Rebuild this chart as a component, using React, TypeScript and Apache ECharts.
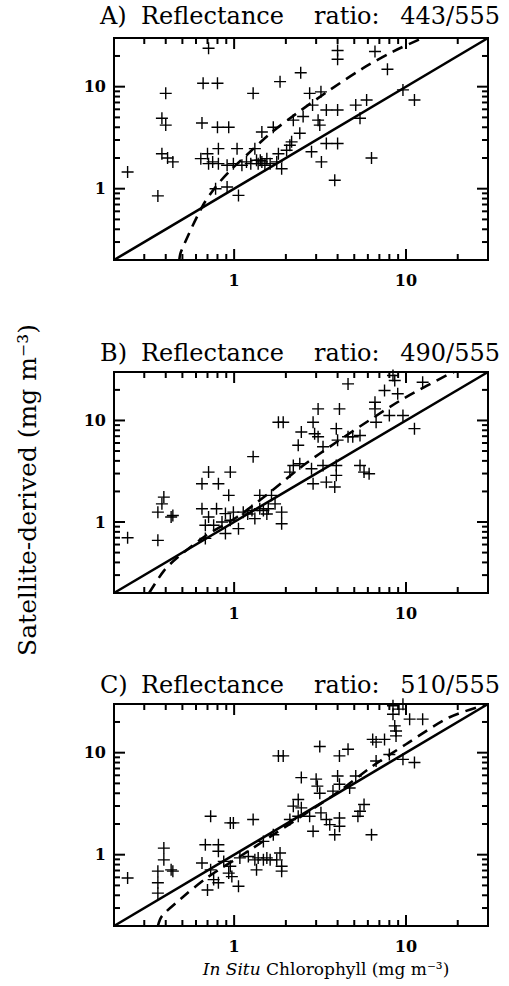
import React, { useEffect, useRef } from "react";
import * as echarts from "echarts";

const AXIS_MIN = 0.2;
const AXIS_MAX = 30;
const tickLabelValues = [1, 10];
const majorTickValues = [1, 10];
const minorTickValues = [0.3, 0.4, 0.5, 0.6, 0.7, 0.8, 0.9, 2, 3, 4, 5, 6, 7, 8, 9, 20];

const panelTitles = [
  "A) Reflectance ratio: 443/555",
  "B) Reflectance ratio: 490/555",
  "C) Reflectance ratio: 510/555",
];
const yAxisTitle = "Satellite-derived (mg m⁻³)";
const xAxisTitleItalic = "In Situ";
const xAxisTitleRest = " Chlorophyll (mg m⁻³)";

const oneToOne = [
  [0.2, 0.2],
  [30, 30],
];

const dashedA = [
  [0.48, 0.2], [0.49, 0.24], [0.65, 0.66], [0.78, 1.04], [0.95, 1.51], [1.18, 2.13],
  [1.62, 3.47], [2.31, 5.47], [3.6, 9.27], [5.6, 15.1], [8.4, 22.1], [12.5, 30],
];
const dashedB = [
  [0.32, 0.2], [0.39, 0.33], [0.47, 0.45], [0.69, 0.74], [1.04, 1.12], [1.62, 1.97],
  [2.52, 3.6], [3.93, 6.1], [6.1, 10], [9.6, 16.3], [17.9, 28.8], [19, 30],
];
const dashedC = [
  [0.36, 0.2], [0.38, 0.25], [0.49, 0.37], [0.69, 0.59], [1.08, 0.96], [1.69, 1.57],
  [2.64, 2.57], [4.1, 4.2], [6.4, 7.4], [10, 12.1], [17.8, 22.1], [30, 30],
];

const pointsA = [
  [0.71, 23.8], [0.4, 8.6], [0.66, 10.8], [0.8, 10.8], [1.29, 8.6], [1.85, 11.2], [2.44, 13.7],
  [4.0, 22.6], [4.0, 18.6], [6.6, 22.1], [7.8, 14.8], [2.75, 8.6], [3.2, 8.9], [2.86, 6.6],
  [3.44, 5.9], [4.0, 5.9], [5.1, 6.6], [5.9, 7.4], [5.4, 4.9], [9.6, 9.3], [11.2, 7.4],
  [0.38, 4.9], [0.4, 4.2], [0.65, 4.4], [0.8, 4.0], [0.93, 4.0], [1.45, 3.6], [1.69, 4.0],
  [2.21, 4.7], [2.52, 5.1], [2.41, 3.5], [3.08, 4.7], [3.15, 4.2], [0.38, 2.2], [0.41, 2.0],
  [0.44, 1.83], [0.36, 0.85], [0.64, 1.97], [0.7, 2.2], [0.71, 1.76], [0.81, 2.47], [0.81, 1.76],
  [0.91, 1.7], [1.04, 2.47], [0.99, 1.76], [1.11, 1.7], [1.18, 1.83], [1.32, 2.47], [1.35, 1.9],
  [1.45, 1.83], [1.55, 1.97], [1.62, 1.76], [1.77, 1.83], [1.81, 2.2], [1.89, 1.57], [2.02, 2.38],
  [2.11, 2.67], [2.16, 2.88], [2.82, 2.3], [3.22, 1.83], [3.44, 2.77], [4.0, 2.77], [3.85, 1.21],
  [6.3, 2.0], [0.78, 1.0], [0.91, 1.04], [1.06, 0.86], [0.24, 1.46], [1.38, 1.76], [1.51, 1.7],
  [0.75, 1.83], [1.25, 1.76], [1.42, 1.9],
];

const pointsB = [
  [4.6, 22.9], [8.4, 27.7], [8.6, 24.7], [12.5, 23.8], [7.5, 19.7], [8.95, 18.3], [3.08, 13.0],
  [4.1, 13.0], [6.6, 15.1], [6.6, 13.0], [6.7, 9.6], [8.0, 11.2], [9.6, 11.2], [11.2, 8.3],
  [1.81, 9.6], [1.93, 9.6], [2.88, 9.6], [2.46, 7.7], [2.94, 7.4], [3.08, 6.9], [2.36, 5.7],
  [3.29, 5.5], [3.93, 8.3], [4.0, 6.4], [4.6, 6.9], [4.9, 6.9], [5.4, 7.1], [1.29, 4.4],
  [0.71, 3.1], [0.95, 3.1], [0.65, 2.38], [0.81, 2.38], [0.93, 1.83], [2.21, 3.6], [2.41, 3.75],
  [2.11, 3.1], [2.82, 3.35], [3.29, 3.6], [3.93, 3.6], [2.88, 2.38], [3.44, 2.47], [3.85, 2.21],
  [3.93, 2.88], [5.4, 3.6], [5.7, 3.1], [6.1, 2.99], [0.39, 1.76], [0.36, 1.25], [0.43, 1.12],
  [0.44, 1.16], [0.38, 1.51], [0.36, 0.66], [0.65, 1.35], [0.68, 0.93], [0.79, 1.35], [0.71, 1.12],
  [0.76, 0.93], [0.89, 1.21], [0.85, 1.0], [0.95, 1.04], [0.99, 1.25], [1.06, 0.86], [0.89, 0.77],
  [0.68, 0.69], [1.13, 1.25], [1.27, 1.3], [1.32, 1.08], [1.41, 1.35], [1.48, 1.3], [1.58, 1.35],
  [1.65, 1.83], [1.41, 1.83], [1.73, 1.51], [1.89, 1.25], [1.89, 0.96], [0.24, 0.7], [1.2, 1.2],
  [1.55, 1.2],
];

const pointsC = [
  [8.4, 28.8], [9.1, 26.7], [9.6, 29.8], [8.4, 23.8], [10.5, 21.3], [12.5, 21.3], [8.6, 18.3],
  [8.75, 16.3], [6.4, 13.5], [6.7, 12.7], [7.5, 13.5], [8.75, 14.6], [1.81, 9.3], [1.93, 9.3],
  [3.15, 11.5], [4.1, 9.3], [4.6, 10.8], [8.0, 9.6], [9.6, 8.6], [11.2, 8.0], [6.7, 8.3],
  [2.46, 5.7], [3.0, 5.5], [3.05, 4.7], [3.15, 4.0], [4.0, 5.9], [4.1, 4.9], [4.7, 4.5],
  [5.1, 5.9], [3.76, 4.2], [2.36, 3.48], [2.21, 2.99], [2.46, 2.88], [2.11, 2.21], [2.36, 2.38],
  [2.75, 2.38], [2.88, 1.7], [3.2, 2.57], [3.44, 2.21], [3.6, 1.97], [4.1, 2.29], [3.85, 1.57],
  [4.1, 1.9], [5.4, 2.67], [5.7, 3.1], [5.25, 2.38], [6.3, 1.57], [0.73, 2.38], [0.95, 2.05],
  [0.99, 2.05], [1.29, 2.21], [1.69, 1.57], [1.48, 1.35], [0.39, 1.16], [0.39, 0.89], [0.36, 0.69],
  [0.43, 0.71], [0.44, 0.69], [0.36, 0.42], [0.68, 1.25], [0.81, 1.25], [0.81, 1.08], [0.65, 0.83],
  [0.73, 0.71], [0.87, 0.86], [0.95, 0.77], [0.93, 0.66], [0.76, 0.57], [0.7, 0.45], [0.81, 0.53],
  [1.08, 0.93], [1.06, 0.49], [1.21, 0.96], [1.32, 0.89], [1.38, 0.93], [1.48, 0.89], [1.55, 0.93],
  [1.62, 0.89], [1.77, 0.89], [1.85, 1.04], [1.89, 0.77], [1.89, 0.69], [1.35, 0.71], [0.97, 0.61],
  [0.24, 0.59], [0.36, 0.53],
];

const panelPoints = [pointsA, pointsB, pointsC];
const panelDashed = [dashedA, dashedB, dashedC];

const SERIF = '"DejaVu Serif", "Liberation Serif", serif';
const GRID_LEFT = 114;
const GRID_WIDTH = 374;
const gridTops = [38, 372, 704];
const gridHeights = [222, 221, 222];
const titleCenters = [16, 353, 685];
// left x of each word in a panel title; the last word is right-aligned to its x
const titleWordX = [100, 141, 314, 500];
const PLUS = "path://M5,0 L5,10 M0,5 L10,5";
const TICK_W = 2;
const MAJOR_LEN = 11;
const MINOR_LEN = 6;

function isLabelValue(v: number) {
  return tickLabelValues.some((t) => Math.abs(t - v) < 1e-6);
}

// tick marks on all four sides of a panel: rect symbols set half a tick inside
// the frame (in log units of the axis) so that they point into the plot
function tickItems(height: number) {
  const decades = Math.log10(AXIS_MAX / AXIS_MIN);
  const pxPerDecX = GRID_WIDTH / decades;
  const pxPerDecY = height / decades;
  const all = [
    ...minorTickValues.map((v) => ({ v, len: MINOR_LEN })),
    ...majorTickValues.map((v) => ({ v, len: MAJOR_LEN })),
  ];
  const items: any[] = [];
  all.forEach(({ v, len }) => {
    const fx = Math.pow(10, len / 2 / pxPerDecX);
    const fy = Math.pow(10, len / 2 / pxPerDecY);
    items.push(
      { value: [v, AXIS_MIN * fy], symbolSize: [TICK_W, len] },
      { value: [v, AXIS_MAX / fy], symbolSize: [TICK_W, len] },
      { value: [AXIS_MIN * fx, v], symbolSize: [len, TICK_W] },
      { value: [AXIS_MAX / fx, v], symbolSize: [len, TICK_W] }
    );
  });
  return items;
}

export default function App() {
  const ref = useRef<HTMLDivElement>(null);
  useEffect(() => {
    if (!ref.current) return;
    const chart = echarts.init(ref.current, null, { renderer: "svg" });

    const grids = gridTops.map((t, i) => ({
      left: GRID_LEFT,
      top: t,
      width: GRID_WIDTH,
      height: gridHeights[i],
      show: true,
      borderColor: "#000",
      borderWidth: 2,
      backgroundColor: "transparent",
    }));

    const axisLabel = (margin: number) => ({
      formatter: (v: number) => (isLabelValue(v) ? String(Math.round(v)) : ""),
      fontFamily: SERIF,
      fontWeight: "bold",
      fontSize: 16,
      color: "#000",
      margin,
      showMinLabel: true,
      showMaxLabel: true,
    });

    const makeAxis = (i: number, margin: number) => ({
      type: "log",
      logBase: 10,
      gridIndex: i,
      min: AXIS_MIN,
      max: AXIS_MAX,
      axisLine: { show: false },
      axisTick: { show: false },
      splitLine: { show: false },
      axisLabel: axisLabel(margin),
    });

    const series: any[] = [];
    gridTops.forEach((_, i) => {
      series.push({
        type: "scatter",
        xAxisIndex: i,
        yAxisIndex: i,
        data: tickItems(gridHeights[i]),
        symbol: "rect",
        silent: true,
        clip: true,
        itemStyle: { color: "#000", opacity: 1 },
        z: 5,
      });
      series.push({
        type: "line",
        xAxisIndex: i,
        yAxisIndex: i,
        data: oneToOne,
        symbol: "none",
        silent: true,
        lineStyle: { color: "#000", width: 2.6 },
        z: 3,
      });
      series.push({
        type: "line",
        xAxisIndex: i,
        yAxisIndex: i,
        data: panelDashed[i],
        symbol: "none",
        smooth: 0.3,
        silent: true,
        lineStyle: { color: "#000", width: 2.6, type: [11, 7] },
        z: 3,
      });
      series.push({
        type: "scatter",
        xAxisIndex: i,
        yAxisIndex: i,
        data: panelPoints[i],
        symbol: PLUS,
        symbolSize: 12,
        silent: true,
        itemStyle: { color: "rgba(0,0,0,0)", borderColor: "#000", borderWidth: 1.4, opacity: 1 },
        z: 4,
      });
    });

    const texts: any[] = [];
    panelTitles.forEach((t, i) => {
      const words = t.split(" ");
      words.forEach((w, k) => {
        texts.push({
          type: "text",
          x: titleWordX[k],
          y: titleCenters[i],
          style: {
            text: w,
            fontFamily: SERIF,
            fontSize: 24,
            fill: "#000",
            align: k === words.length - 1 ? "right" : "left",
            verticalAlign: "middle",
          },
        });
      });
    });
    texts.push({
      type: "text",
      x: 27,
      y: 490,
      rotation: Math.PI / 2,
      style: {
        text: yAxisTitle,
        fontFamily: SERIF,
        fontSize: 25,
        fill: "#000",
        align: "center",
        verticalAlign: "middle",
      },
    });
    texts.push({
      type: "text",
      x: 326,
      y: 969,
      style: {
        text: `{i|${xAxisTitleItalic}}{r|${xAxisTitleRest}}`,
        align: "center",
        verticalAlign: "middle",
        rich: {
          i: { fontFamily: SERIF, fontSize: 17, fontStyle: "italic", fill: "#000" },
          r: { fontFamily: SERIF, fontSize: 17, fill: "#000" },
        },
      },
    });

    chart.setOption({
      animation: false,
      backgroundColor: "#fff",
      grid: grids,
      xAxis: gridTops.map((_, i) => makeAxis(i, 12)),
      yAxis: gridTops.map((_, i) => makeAxis(i, 8)),
      series,
      graphic: texts,
    });

    return () => chart.dispose();
  }, []);
  return (
    <div
      ref={ref}
      style={{ position: "absolute", left: 0, top: 0, width: 509, height: 986 }}
    />
  );
}
